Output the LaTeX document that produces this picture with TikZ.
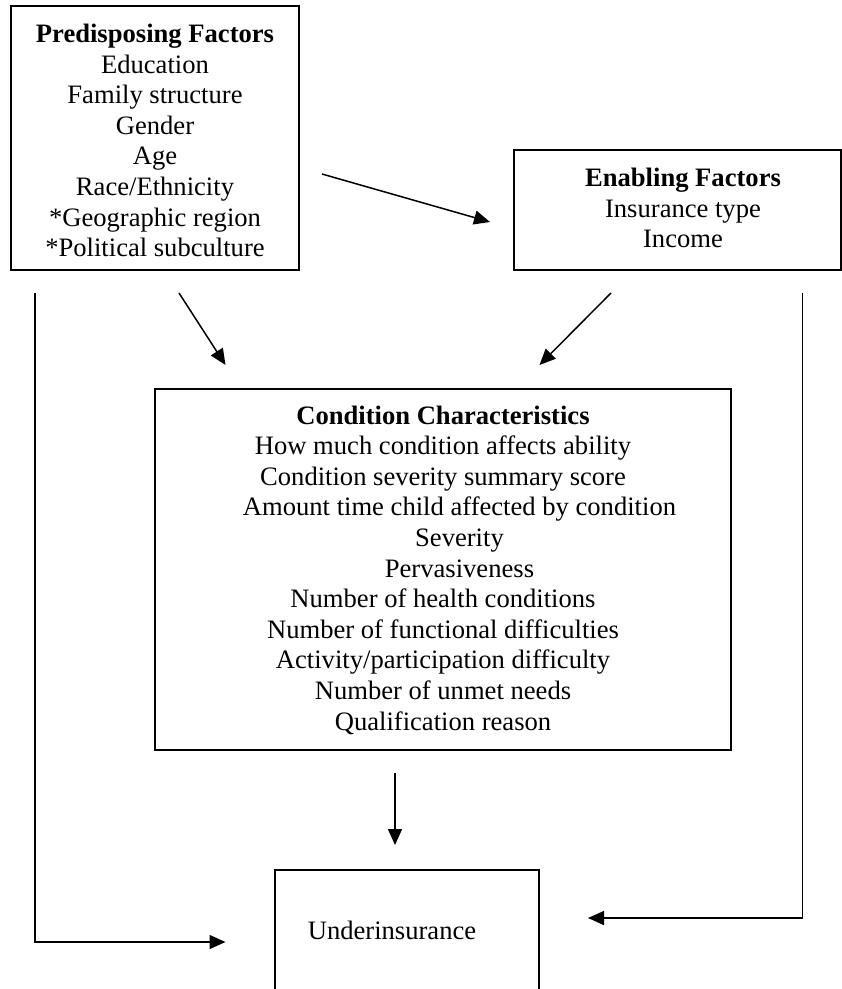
\documentclass[tikz,border=0pt]{standalone}
\usepackage{fontspec}
\setmainfont{Liberation Serif}
\usetikzlibrary{arrows.meta}
\begin{document}
\begin{tikzpicture}[x=1pt,y=-1pt,
  box/.style={draw, line width=2pt, inner sep=0pt},
  txt/.style={align=center, font=\fontsize{26.6}{30.6}\selectfont, inner sep=0pt},
  conn/.style={line width=1.5pt, line join=miter, -{Triangle[length=16pt,width=14pt]}}]
\useasboundingbox (0,0) rectangle (842,989);
\fill[white] (0,0) rectangle (842,989);

% boxes
\node[box, minimum width=288pt, minimum height=264pt] (pre) at (155,138) {};
\node[box, minimum width=327pt, minimum height=120pt] (enb) at (677.5,210) {};
\node[box, minimum width=576pt, minimum height=361pt] (cond) at (443,569.5) {};
\node[box, minimum width=263.5pt, minimum height=140pt] (und) at (406.75,940) {};

% texts
\node[txt] (preT) at (155,140.5) {\textbf{Predisposing Factors}\\Education\\Family structure\\Gender\\Age\\Race/Ethnicity\\*Geographic region\\*Political subculture};
\node[txt] (enbT) at (683,208) {\textbf{Enabling Factors}\\Insurance type\\Income};
\node[txt] (condT) at (443,570) {\textbf{Condition Characteristics}\\How much condition affects ability\\Condition severity summary score\\\hspace*{33pt}Amount time child affected by condition\\\hspace*{33pt}Severity\\\hspace*{33pt}Pervasiveness\\Number of health conditions\\Number of functional difficulties\\Activity/participation difficulty\\Number of unmet needs\\Qualification reason};
\node[txt] (undT) at (392,930) {Underinsurance};

% connector end points
\coordinate (a1s) at (322,174);
\coordinate (a1e) at (490,222);
\coordinate (a2s) at (179,293);
\coordinate (a2e) at (225.5,365);
\coordinate (a3s) at (611,293);
\coordinate (a3e) at (539.5,365);
\coordinate (a4s) at (395,773);
\coordinate (a4e) at (395,845);
\coordinate (l1) at (35,293);
\coordinate (l2) at (225.5,942);
\coordinate (r1) at (802.6,293);
\coordinate (r2) at (588,918);

% connectors
\draw[conn] (a1s) -- (a1e);
\draw[conn] (a2s) -- (a2e);
\draw[conn] (a3s) -- (a3e);
\draw[conn] (a4s) -- (a4e);
\draw[conn] (l1) |- (l2);
\draw[conn] (r1) |- (r2);
\end{tikzpicture}
\end{document}
